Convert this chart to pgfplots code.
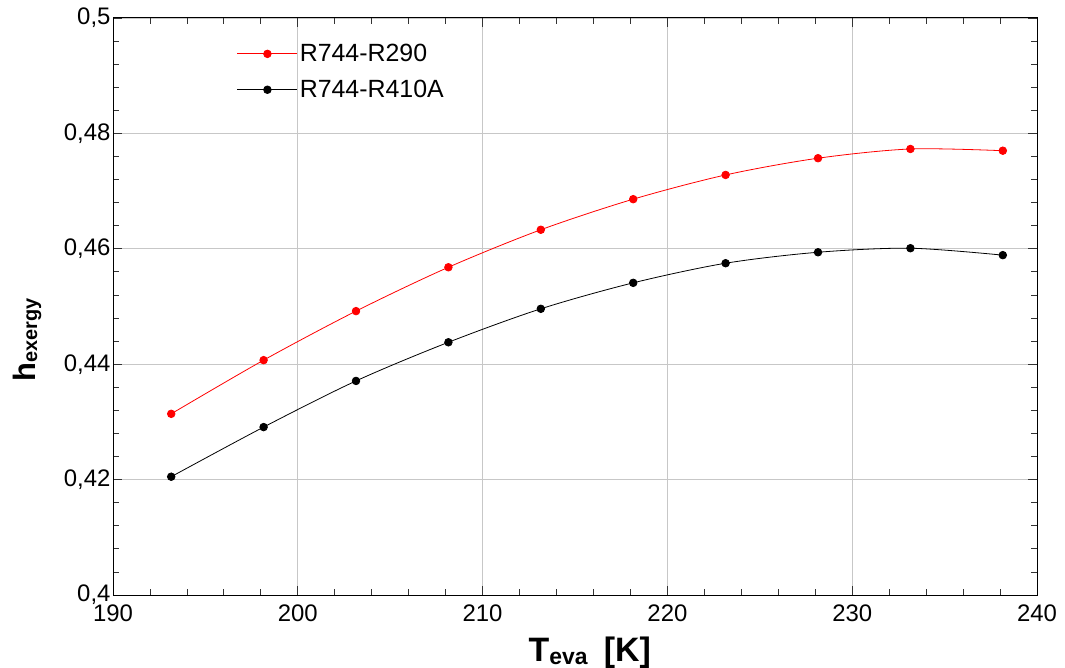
\documentclass[border=0pt]{standalone}
\usepackage{fontspec}
\setmainfont{Liberation Sans}
\usepackage{pgfplots}
\pgfplotsset{compat=1.18}

\begin{document}
\begin{tikzpicture}
\useasboundingbox (0,0) rectangle (1065bp,668bp);
\begin{axis}[
  at={(113bp,73bp)}, anchor=south west,
  scale only axis, width=924bp, height=577bp,
  xmin=190, xmax=240, ymin=0.4, ymax=0.5,
  xtick={190,200,210,220,230,240},
  ytick={0.4,0.42,0.44,0.46,0.48,0.5},
  minor x tick num=4, minor y tick num=4,
  tick align=inside,
  major tick length=9bp, minor tick length=6bp,
  tick style={black!80, line width=0.8bp},
  grid=major,
  major grid style={black!22, line width=0.8bp},
  axis line style={line width=1bp},
  ticklabel style={font=\fontsize{24}{27}\selectfont},
  /pgf/number format/assume math mode=true,
  /pgf/number format/use comma,
  yticklabel style={/pgf/number format/fixed, /pgf/number format/precision=2, xshift=1bp},
  xticklabel style={yshift=-6bp},
  xlabel={\textbf{T}\raisebox{-3bp}{\fontsize{23}{23}\selectfont\textbf{eva}}\hspace{16bp}\textbf{[K]}},
  xlabel style={font=\fontsize{34}{37}\selectfont, at={(axis description cs:0.516,-0.1144)}, anchor=base},
  ylabel={\textbf{h}\raisebox{-2bp}{\fontsize{20}{20}\selectfont\textbf{exergy}}},
  ylabel style={font=\fontsize{31}{34}\selectfont, at={(axis description cs:-0.0844,0.442)}, anchor=base},
  legend style={draw=none, fill=none, at={(axis description cs:0.134,0.958)}, anchor=north west,
    font=\fontsize{25}{28}\selectfont, row sep=13bp, inner sep=0pt},
  legend cell align=left,
  legend image code/.code={\draw[mark repeat=2,mark phase=2] plot coordinates {(0bp,0bp) (30bp,0bp) (60bp,0bp)};},
]
\addplot[red, line width=0.8bp, smooth, mark=*, mark size=3.8bp, mark options={fill=red}]
  coordinates {
    (193.15,0.4314) (198.15,0.4407) (203.15,0.4492) (208.15,0.4568) (213.15,0.4633)
    (218.15,0.4686) (223.15,0.4728) (228.15,0.4757) (233.15,0.4773) (238.15,0.4770)
  };
\addlegendentry{R744-R290}
\addplot[black, line width=0.8bp, smooth, mark=*, mark size=3.8bp, mark options={fill=black}]
  coordinates {
    (193.15,0.4205) (198.15,0.4291) (203.15,0.4371) (208.15,0.4438) (213.15,0.4496)
    (218.15,0.4541) (223.15,0.4575) (228.15,0.4594) (233.15,0.4601) (238.15,0.4589)
  };
\addlegendentry{R744-R410A}
\end{axis}
\end{tikzpicture}
\end{document}
